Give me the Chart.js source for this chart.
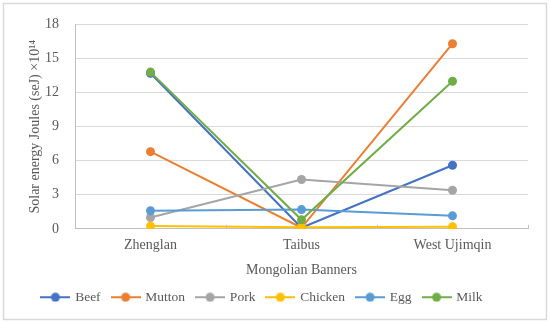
<!DOCTYPE html>
<html><head><meta charset="utf-8">
<script src="https://cdn.jsdelivr.net/npm/chart.js@4.4.1/dist/chart.umd.min.js"></script>
<style>html,body{margin:0;padding:0;background:#fff}#wrap{width:550px;height:323px;position:relative}</style>
</head><body><div id="wrap"><canvas id="c" width="550" height="323"></canvas></div>
<script>
const categories = ["Zhenglan", "Taibus", "West Ujimqin"];
const beef = [13.7, 0.1, 5.6];
const mutton = [6.8, 0.1, 16.3];
const pork = [1.0, 4.35, 3.4];
const chicken = [0.25, 0.15, 0.2];
const egg = [1.6, 1.7, 1.15];
const milk = [13.8, 0.8, 13.0];
const yTicks = [0, 3, 6, 9, 12, 15, 18];
const seriesNames = ["Beef", "Mutton", "Pork", "Chicken", "Egg", "Milk"];
const seriesData = [beef, mutton, pork, chicken, egg, milk];
const colors = ["#4472C4", "#ED7D31", "#A5A5A5", "#FFC000", "#5B9BD5", "#70AD47"];

function legendIcon(color) {
  const c = document.createElement('canvas');
  c.width = 30; c.height = 10;
  const g = c.getContext('2d');
  g.strokeStyle = color; g.lineWidth = 2;
  g.beginPath(); g.moveTo(0, 5); g.lineTo(30, 5); g.stroke();
  g.fillStyle = color;
  g.beginPath(); g.arc(15, 5, 4.5, 0, Math.PI * 2); g.fill();
  return c;
}

const frame = {
  id: 'frame',
  beforeDraw(chart) {
    const ctx = chart.ctx;
    ctx.save();
    ctx.fillStyle = '#fff';
    ctx.fillRect(0, 0, 550, 323);
    ctx.strokeStyle = '#d9d9d9';
    ctx.lineWidth = 1.5;
    ctx.strokeRect(3.5, 3.5, 543, 316);
    ctx.restore();
  },
  afterLayout(chart) {
    const lg = chart.legend;
    if (lg) { lg.left -= 15; lg.right -= 15; }
  },
  afterDatasetsDraw(chart) {
    // inside tick marks at category boundaries (Excel style)
    const xs = chart.scales.x;
    const ctx = chart.ctx;
    const y = xs.top;
    ctx.save();
    ctx.strokeStyle = '#bfbfbf';
    ctx.lineWidth = 1;
    const n = categories.length;
    for (let i = 1; i <= n; i++) {
      const p = i < n ? (xs.getPixelForValue(i - 1) + xs.getPixelForValue(i)) / 2 : xs.right;
      const px = Math.round(p) + 0.5;
      ctx.beginPath(); ctx.moveTo(px, y); ctx.lineTo(px, y - 4); ctx.stroke();
    }
    ctx.restore();
  }
};

const FONT = "'Liberation Serif', 'Times New Roman', serif";
const TXT = '#595959';
new Chart(document.getElementById('c'), {
  type: 'line',
  data: {
    labels: categories,
    datasets: seriesData.map((d, i) => ({
      label: seriesNames[i],
      data: d,
      borderColor: colors[i],
      backgroundColor: colors[i],
      borderWidth: 2,
      pointRadius: 4.5,
      pointHoverRadius: 4.5,
      pointBorderWidth: 0,
      tension: 0,
      order: 6 - i
    }))
  },
  options: {
    responsive: false,
    animation: false,
    layout: { padding: { left: 27, right: 22, top: 20, bottom: 9 } },
    plugins: {
      tooltip: { enabled: false },
      legend: {
        position: 'bottom',
        labels: {
          font: { family: FONT, size: 13.5 },
          color: TXT,
          usePointStyle: true,
          pointStyleWidth: 26,
          padding: 12,
          generateLabels(chart) {
            return chart.data.datasets.map((ds, i) => ({
              text: ds.label,
              pointStyle: legendIcon(colors[i]),
              fillStyle: colors[i],
              strokeStyle: colors[i],
              fontColor: TXT,
              lineWidth: 0,
              datasetIndex: i,
              hidden: false
            }));
          }
        }
      }
    },
    scales: {
      x: {
        offset: true,
        grid: { display: true, drawOnChartArea: false, drawTicks: true, tickLength: 5, color: 'rgba(0,0,0,0)', tickColor: 'rgba(0,0,0,0)', offset: true },
        border: { color: '#bfbfbf', width: 1 },
        ticks: { font: { family: FONT, size: 14 }, color: TXT, padding: 3 },
        title: { display: true, text: 'Mongolian Banners', font: { family: FONT, size: 14 }, color: TXT, padding: { top: 5, bottom: 0 } }
      },
      y: {
        min: 0, max: 18,
        afterBuildTicks(axis) { axis.ticks = yTicks.map(v => ({ value: v })); },
        afterFit(axis) { axis.width = 48; },
        grid: { color: '#d9d9d9', drawTicks: false },
        border: { display: true, color: '#bfbfbf' },
        ticks: { font: { family: FONT, size: 14 }, color: TXT, padding: 16 },
        title: { display: true, text: 'Solar energy Joules (seJ) ×10¹⁴', font: { family: FONT, size: 14 }, color: TXT, padding: { top: 0, bottom: 2 } }
      }
    }
  },
  plugins: [frame]
});
</script></body></html>
